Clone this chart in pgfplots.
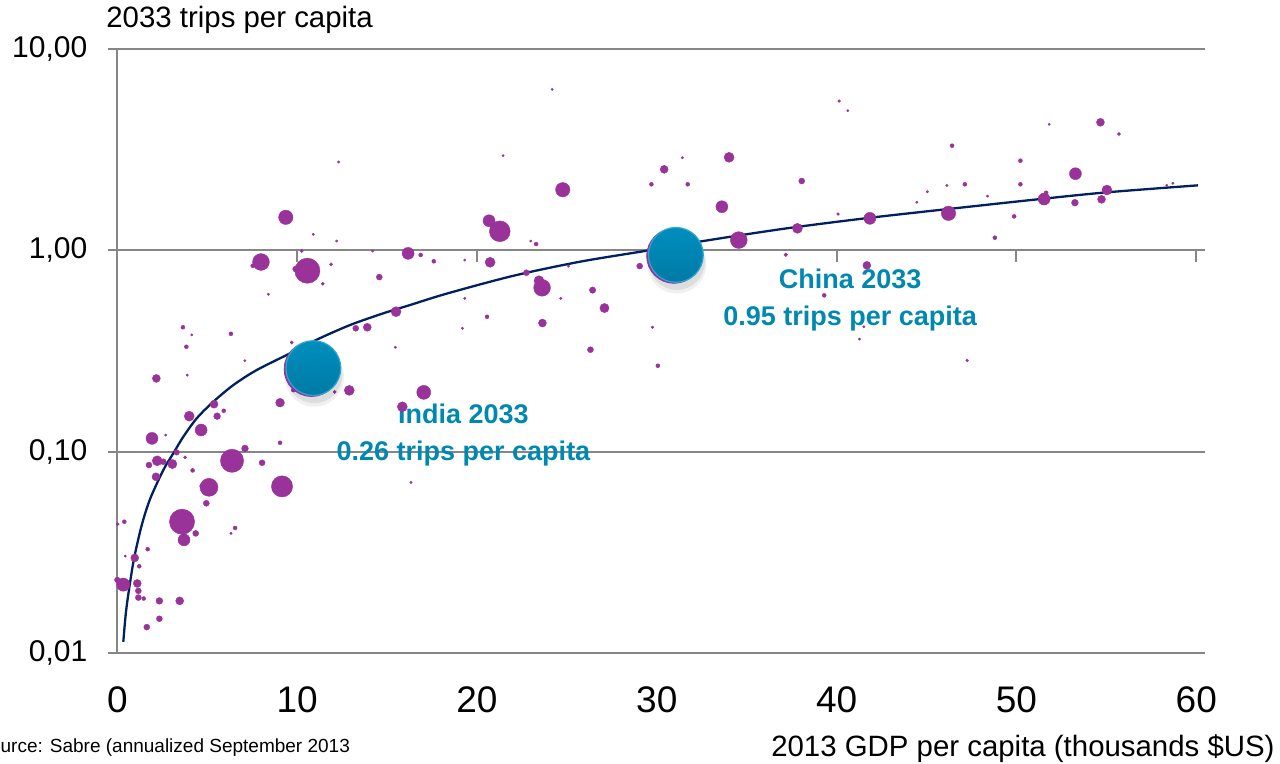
\documentclass[border=0pt]{standalone}
\usepackage{fontspec}
\setmainfont{Liberation Sans}
\usepackage{pgfplots}
\usepackage{pgfplotstable}
\pgfplotsset{compat=1.18}

\definecolor{purp}{RGB}{153,51,153}
\definecolor{navy}{RGB}{0,32,96}
\definecolor{gridgray}{RGB}{134,134,134}
\definecolor{tealtop}{RGB}{0,152,202}
\definecolor{tealbot}{RGB}{0,112,152}
\definecolor{tealrim}{RGB}{40,168,210}
\definecolor{tealtext}{RGB}{0,136,176}

% shaded ball used for the highlighted countries
\pgfdeclareverticalshading{tealball}{100bp}{color(0bp)=(tealbot); color(100bp)=(tealtop)}
\pgfdeclareplotmark{tealbubble}{%
  \pgfpathcircle{\pgfpointorigin}{\pgfplotmarksize}%
  \pgfshadepath{tealball}{0}%
  \pgfusepathqstroke
}

% countries: GDP per capita (k$), trips per capita 2033, bubble radius (pt)
\pgfplotstableread{
x y s
9.37 1.461 3.6
10.90 1.202 0.6
12.20 1.114 0.6
10.26 0.993 0.8
14.20 0.993 0.6
7.99 0.876 4.2
7.53 0.839 1.0
10.57 0.793 6.3
9.92 0.808 1.5
11.89 0.853 0.8
11.42 0.683 0.8
14.57 0.737 1.5
8.40 0.605 0.6
3.65 0.415 1.0
4.14 0.380 0.6
6.32 0.385 1.0
13.26 0.410 1.5
13.90 0.415 2.0
15.50 0.496 2.5
3.84 0.332 1.0
9.70 0.349 0.8
7.09 0.283 0.6
15.46 0.330 0.6
2.17 0.231 2.0
3.89 0.240 0.6
12.90 0.2015 2.5
9.79 0.202 1.0
12.09 0.198 0.8
9.05 0.175 2.2
5.38 0.172 2.0
5.92 0.1595 1.0
4.00 0.150 2.5
5.55 0.150 1.7
4.66 0.128 3.0
1.93 0.1163 3.0
2.69 0.1208 0.6
9.05 0.1106 1.0
7.10 0.1037 1.7
3.30 0.0991 1.4
3.77 0.0936 0.8
2.22 0.0900 2.5
2.56 0.0890 1.5
1.76 0.0857 1.5
3.06 0.0867 2.3
6.38 0.0900 5.8
8.05 0.0880 1.5
4.19 0.0806 1.0
2.15 0.0749 2.0
5.10 0.0664 4.5
4.69 0.0674 1.0
9.16 0.0671 5.3
4.95 0.0553 1.5
3.60 0.0448 6.3
4.36 0.0392 1.5
3.71 0.0364 3.0
6.55 0.0417 1.0
6.32 0.0392 0.6
0.39 0.0448 1.0
0.02 0.0436 0.8
1.69 0.0327 1.0
0.97 0.0296 2.0
0.44 0.0302 0.6
1.22 0.0269 1.0
0.33 0.0218 3.3
0.00 0.0230 1.4
1.11 0.0221 2.0
1.17 0.0203 1.5
1.17 0.0188 1.5
1.47 0.0186 1.0
2.34 0.0181 1.7
3.47 0.0181 2.0
2.34 0.01475 1.5
1.64 0.0134 1.5
24.18 6.32 0.6
12.31 2.753 0.6
21.45 2.958 0.6
24.77 2.004 3.6
16.17 0.967 3.0
16.87 0.949 1.0
17.60 0.883 1.0
19.32 0.896 0.6
20.67 1.405 3.0
21.27 1.245 5.2
22.99 1.114 0.6
23.29 1.076 1.0
20.73 0.873 2.5
22.75 0.775 1.5
23.62 0.652 4.2
23.45 0.707 2.5
26.43 0.635 1.6
24.66 0.578 0.6
19.32 0.578 0.6
25.09 0.836 0.6
27.09 0.517 2.3
29.05 0.836 1.5
20.56 0.468 1.0
23.64 0.4355 2.0
19.19 0.410 0.6
29.76 0.415 0.7
26.31 0.321 1.5
30.06 0.267 1.0
17.04 0.197 3.5
15.85 0.167 2.5
16.33 0.0703 0.6
40.14 5.53 0.7
40.62 4.95 0.6
34.02 2.904 2.5
31.42 2.891 0.6
30.41 2.531 2.0
29.70 2.132 1.0
31.72 2.132 1.0
46.42 3.317 1.0
38.06 2.214 1.5
33.62 1.650 3.0
46.13 2.102 0.6
45.05 1.958 0.6
44.46 1.735 0.6
40.08 1.517 0.7
41.85 1.444 3.0
46.22 1.529 3.6
37.82 1.288 2.5
34.56 1.126 4.2
37.17 0.952 0.9
41.68 0.843 2.0
39.31 0.598 1.0
41.51 0.4175 0.6
41.27 0.3626 0.6
54.67 4.335 2.0
55.70 3.792 0.8
51.82 4.237 0.6
50.22 2.793 1.0
53.28 2.407 3.0
47.13 2.132 1.0
50.22 2.132 1.0
48.39 1.864 0.6
51.54 1.801 3.0
51.65 1.936 1.0
53.25 1.727 1.7
55.03 1.997 2.5
54.73 1.795 2.0
49.87 1.477 1.0
48.80 1.157 1.0
58.36 2.107 0.6
58.70 2.157 0.6
47.26 0.284 0.7
}\countries

% fitted trend line
\pgfplotstableread{
x y
0.334 0.01133
0.484 0.0160
0.706 0.0222
0.945 0.0298
1.357 0.0430
1.820 0.0580
2.558 0.0809
3.115 0.0980
3.671 0.1185
4.416 0.1463
5.339 0.1769
6.452 0.2141
7.753 0.2543
9.605 0.3078
11.09 0.3600
12.94 0.4256
14.79 0.4867
16.28 0.5353
18.32 0.6100
22.02 0.7480
25.73 0.8790
29.44 0.9970
32.59 1.1140
37.23 1.2880
41.86 1.4540
46.87 1.6310
51.32 1.8010
55.03 1.9450
60.09 2.1070
}\trend

% highlighted countries
\pgfplotstableread{
x y
10.90 0.26
31.06 0.95
}\highlight

\begin{document}
\begin{tikzpicture}
\useasboundingbox (0,0) rectangle (640pt,382pt);
\begin{axis}[
  at={(58.65pt,55.65pt)}, anchor=south west,
  scale only axis, width=539.5pt, height=301.7pt,
  xmin=0, xmax=60, ymin=0.01, ymax=10, ymode=log,
  clip=false,
  axis line style={draw=none},
  xtick={0,10,...,60},
  ytick={0.01,0.1,1,10},
  yticklabels={{0,01},{0,10},{1,00},{10,00}},
  yminorticks=false,
  ymajorgrids,
  major grid style={draw=gridgray, line width=1pt},
  tick align=outside, major tick length=4.5pt,
  xtick style={draw=none},
  ytick style={draw=gridgray, line width=1pt},
  /pgf/number format/assume math mode=true,
  xticklabel style={font=\fontsize{18.5}{22}\selectfont, anchor=base, yshift=-25.2pt},
  yticklabel style={font=\fontsize{15}{18}\selectfont, anchor=east, xshift=-7pt},
]
% y axis line and the x tick marks on the 1,00 line
\draw[gridgray, line width=1pt] (axis cs:0,0.01) -- (axis cs:0,10);
\pgfplotsinvokeforeach{10,20,30,40,50,60}{
  \draw[gridgray, line width=1pt] (axis cs:#1,1) -- ([yshift=-6pt]axis cs:#1,1);
}

\addplot[scatter, only marks, mark=*,
  point meta=\thisrow{s},
  scatter/use mapped color={draw=purp, fill=purp},
  mark options={line width=0.2pt},
  visualization depends on={\thisrow{s} \as \sz},
  scatter/@pre marker code/.append style={/tikz/mark size=\sz}]
  table[x=x, y=y] {\countries};

\addplot[navy, line width=1.15pt, smooth, tension=0.5, no marks] table[x=x, y=y] {\trend};

% soft shadow, purple base and shaded highlight
\addplot[only marks, mark=*, mark size=14.8pt,
  mark options={draw opacity=0, fill=black, fill opacity=0.06, yshift=-4.5pt, xshift=0.5pt}]
  table[x=x, y=y] {\highlight};
\addplot[only marks, mark=*, mark size=14.0pt,
  mark options={draw opacity=0, fill=black, fill opacity=0.08, yshift=-3.5pt, xshift=0.5pt}]
  table[x=x, y=y] {\highlight};
\addplot[only marks, mark=*, mark size=13.7pt,
  mark options={draw=purp, fill=purp, xshift=-0.9pt, yshift=-0.5pt}]
  table[x=x, y=y] {\highlight};
\addplot[only marks, mark=tealbubble, mark size=13.7pt,
  mark options={draw=tealrim, line width=0.6pt}]
  table[x=x, y=y] {\highlight};

\node[align=center, text=tealtext, font=\fontsize{13.5}{18.5}\selectfont\bfseries]
  at (axis cs:19.25,0.1215) {India 2033\\0.26 trips per capita};
\node[align=center, text=tealtext, font=\fontsize{13.5}{18.5}\selectfont\bfseries]
  at (axis cs:40.75,0.570) {China 2033\\0.95 trips per capita};
\end{axis}

\node[anchor=base west, inner sep=0pt, font=\fontsize{14.7}{17}\selectfont]
  at (53pt,368pt) {2033 trips per capita};
\node[anchor=base east, inner sep=0pt, font=\fontsize{14.7}{17}\selectfont]
  at (637.5pt,3.5pt) {2013 GDP per capita (thousands \$US)};
\node[anchor=base west, inner sep=0pt, font=\fontsize{9.5}{11}\selectfont]
  at (-11.5pt,5.5pt) {Source: Sabre (annualized September 2013};
\end{tikzpicture}
\end{document}
